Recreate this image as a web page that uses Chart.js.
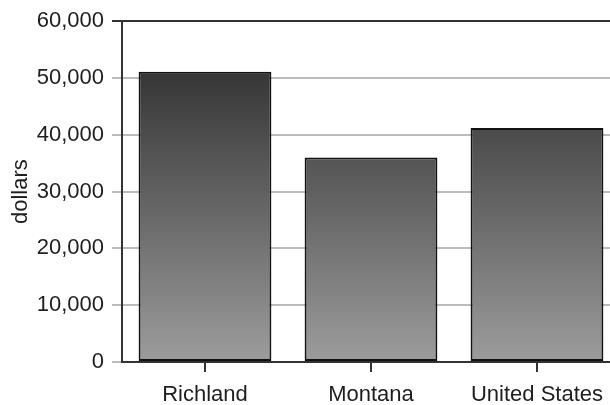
<!DOCTYPE html>
<html>
<head>
<meta charset="utf-8">
<script src="https://cdn.jsdelivr.net/npm/chart.js@4"></script>
<style>
html,body{margin:0;padding:0;background:#fff;overflow:hidden;}
#wrap{width:620px;height:405px;position:relative;}
</style>
</head>
<body>
<div id="wrap"><canvas id="c" width="620" height="405"></canvas></div>
<script>
const categories = ["Richland", "Montana", "United States"];
const values = [51100, 36000, 41200];
const yTicks = [0, 10000, 20000, 30000, 40000, 50000, 60000];
const yTitle = "dollars";

const FONT = 'Liberation Sans, Arial, sans-serif';
const ctx = document.getElementById('c').getContext('2d');
new Chart(ctx, {
  type: 'bar',
  data: {
    labels: categories,
    datasets: [{
      data: values,
      backgroundColor: function(c) {
        const a = c.chart.chartArea;
        if (!a) return '#666';
        const g = c.chart.ctx.createLinearGradient(0, a.top, 0, a.bottom);
        g.addColorStop(0, '#242424');
        g.addColorStop(1, '#9c9c9c');
        return g;
      },
      borderColor: '#111',
      borderWidth: 2,
      borderSkipped: false,
      categoryPercentage: 0.8,
      barPercentage: 1.0
    }]
  },
  options: {
    responsive: false,
    animation: false,
    devicePixelRatio: 1,
    layout: { padding: { top: 20, right: 0, left: 0, bottom: 0 } },
    plugins: { legend: { display: false }, tooltip: { enabled: false } },
    scales: {
      x: {
        afterFit: function(s) { s.height = 43; },
        grid: { display: true, offset: false, drawOnChartArea: false, tickLength: 10, color: '#333', lineWidth: 2 },
        border: { color: '#333', width: 2 },
        ticks: { color: '#1e1e1e', font: { family: FONT, size: 22 }, padding: 10 }
      },
      y: {
        min: 0, max: 60000,
        afterFit: function(s) { s.width = 122; },
        afterBuildTicks: function(s) { s.ticks = yTicks.map(v => ({ value: v })); },
        grid: {
          tickLength: 10,
          color: function(c) { return c.tick && c.tick.value === 60000 ? '#333' : '#bbb'; },
          lineWidth: 2
        },
        border: { color: '#333', width: 2 },
        title: { display: true, text: yTitle, color: '#1e1e1e', font: { family: FONT, size: 22 }, padding: 8 },
        ticks: {
          color: '#1e1e1e', font: { family: FONT, size: 22 }, padding: 8,
          callback: function(v) { return v.toLocaleString('en-US'); }
        }
      }
    }
  }
});
</script>
</body>
</html>
